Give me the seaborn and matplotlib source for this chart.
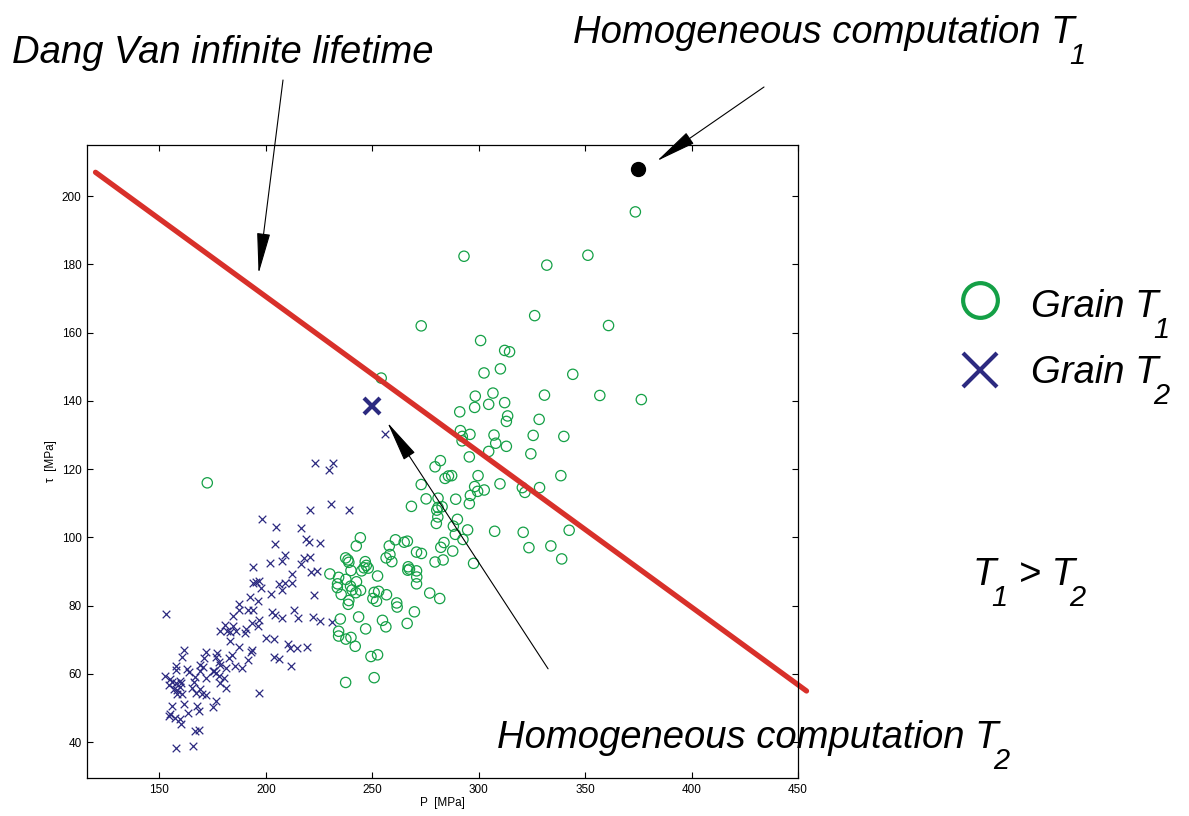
import numpy as np
import pandas as pd
import matplotlib
matplotlib.use("Agg")
import matplotlib.pyplot as plt
import seaborn as sns
from matplotlib.lines import Line2D

# Grain T2 (crosses): P [MPa], tau [MPa]
grain_t2_p = [255.9, 223.1, 231.7, 229.8, 230.5, 220.8, 239.2, 198.3, 204.7, 216.4, 218.7, 220.3,
              225.6, 204.2, 208.9, 207.7, 202.2, 220.8, 217.8, 216.6, 194.1, 221.2, 224.2, 212.2,
              206.2, 209.2, 212.2, 195.5, 197.0, 194.1, 197.7, 207.8, 202.3, 222.5, 192.6, 196.4,
              187.5, 187.2, 191.6, 194.2, 184.5, 202.8, 204.2, 213.1, 207.8, 215.2, 222.2, 225.5,
              231.1, 197.0, 193.7, 196.1, 180.9, 184.7, 178.6, 181.9, 183.3, 186.1, 190.6, 190.0,
              183.4, 187.5, 200.3, 203.9, 210.5, 211.4, 214.5, 219.2, 193.4, 193.0, 161.6, 160.5,
              171.7, 171.1, 177.0, 176.7, 184.1, 182.5, 191.6, 203.7, 206.4, 211.7, 158.0, 157.7,
              163.0, 163.7, 169.2, 170.6, 168.9, 175.0, 176.4, 178.6, 177.8, 181.4, 185.6, 188.7,
              152.7, 155.2, 156.1, 159.5, 160.2, 159.8, 158.0, 154.7, 166.9, 166.1, 171.7, 175.5,
              178.0, 180.2, 178.6, 181.2, 165.5, 168.9, 169.8, 172.0, 167.0, 158.4, 158.3, 160.5,
              157.0, 196.9, 176.7, 175.0, 156.1, 161.4, 167.5, 168.7, 163.3, 155.2, 154.7, 157.5,
              159.8, 160.0, 166.7, 168.7, 158.0, 165.8, 153.0]
grain_t2_tau = [130.3, 121.7, 121.9, 119.9, 109.9, 108.0, 108.1, 105.4, 103.1, 102.9, 99.6, 98.6,
                98.5, 98.0, 94.8, 93.0, 92.6, 94.4, 94.1, 92.2, 91.3, 89.8, 90.1, 89.4,
                86.4, 86.6, 86.7, 87.0, 87.2, 86.7, 85.2, 84.5, 83.5, 83.2, 82.4, 81.5,
                80.5, 78.8, 78.6, 78.8, 77.0, 78.1, 77.2, 78.8, 76.5, 76.5, 76.6, 75.5,
                75.3, 75.9, 75.0, 74.1, 74.3, 74.0, 72.7, 72.7, 72.3, 72.5, 73.2, 72.0,
                69.6, 68.0, 70.5, 70.2, 68.7, 67.7, 67.7, 68.0, 67.1, 66.4, 66.9, 65.0,
                66.4, 64.8, 66.1, 64.9, 65.5, 64.7, 64.1, 65.0, 64.5, 62.4, 62.2, 61.2,
                61.4, 60.7, 62.5, 61.9, 61.0, 60.9, 60.2, 62.7, 63.5, 61.7, 62.3, 61.7,
                59.4, 58.4, 57.7, 58.0, 57.2, 56.2, 57.2, 56.8, 59.2, 57.5, 58.7, 61.0,
                59.4, 58.7, 57.4, 55.9, 56.0, 55.7, 54.0, 53.7, 54.5, 55.3, 54.0, 54.1,
                55.7, 54.5, 52.1, 50.2, 50.7, 51.1, 50.6, 49.1, 48.6, 48.4, 47.6, 47.1,
                46.8, 45.4, 43.3, 43.5, 38.3, 38.9, 77.7]

# Grain T1 (circles): P [MPa], tau [MPa]
grain_t1_p = [373.6, 293.1, 351.3, 332.0, 326.3, 361.0, 273.0, 300.9, 312.2, 314.5, 310.2, 302.5,
              344.2, 254.2, 376.4, 298.4, 306.7, 304.7, 298.1, 312.2, 313.6, 313.0, 291.1, 330.9,
              356.9, 328.4, 291.4, 292.3, 292.2, 295.9, 307.2, 308.0, 313.0, 304.7, 295.6, 325.6,
              340.0, 324.5, 282.0, 279.5, 284.2, 285.8, 287.3, 273.0, 299.7, 298.1, 302.6, 310.0,
              299.5, 296.1, 295.6, 289.2, 280.9, 275.3, 268.4, 280.9, 282.8, 280.3, 280.8, 280.1,
              290.0, 288.1, 289.0, 292.6, 294.8, 283.7, 282.2, 287.8, 279.5, 283.3, 297.6, 320.5,
              321.7, 328.6, 338.6, 307.5, 320.9, 342.5, 323.6, 333.9, 339.0,
              244.4, 242.5, 260.9, 265.0, 266.5, 258.0, 270.8, 273.1, 258.3, 256.5, 259.2, 237.5,
              238.6, 239.0, 246.7, 247.2, 246.1, 248.1, 245.0, 240.0, 266.9, 267.5, 266.7, 270.8,
              270.9, 270.8, 252.5, 230.1, 234.2, 233.7, 233.6, 237.6, 239.8, 242.6, 240.5, 244.5,
              235.4, 242.3, 250.9, 253.0, 250.3, 252.0, 256.7, 239.0, 238.7, 261.5, 261.7, 277.0,
              281.7, 269.8, 266.4, 235.0, 243.6, 254.8, 256.4, 246.9, 234.2, 234.2, 240.0, 237.6,
              242.0, 249.4, 252.5, 250.9, 237.5, 172.5]
grain_t1_tau = [195.4, 182.4, 182.7, 179.8, 165.0, 162.1, 162.0, 157.7, 154.8, 154.4, 149.4, 148.2,
                147.8, 146.7, 140.4, 141.4, 142.3, 139.0, 138.1, 139.5, 135.6, 134.0, 136.8, 141.7,
                141.6, 134.6, 131.3, 129.6, 128.3, 130.2, 130.0, 127.6, 126.7, 125.2, 123.6, 129.9,
                129.6, 124.5, 122.5, 120.7, 117.3, 118.0, 118.1, 115.5, 118.1, 114.9, 113.9, 115.7,
                113.5, 112.3, 109.9, 111.2, 111.5, 111.3, 109.1, 108.8, 109.0, 108.0, 106.0, 104.1,
                105.3, 103.3, 100.9, 99.4, 102.2, 98.5, 97.1, 96.0, 92.8, 93.4, 92.4, 114.6,
                113.2, 114.6, 118.1, 101.8, 101.5, 102.1, 97.0, 97.5, 93.7,
                99.9, 97.5, 99.3, 98.6, 98.9, 97.5, 95.7, 95.3, 95.0, 94.0, 92.9, 94.0,
                93.4, 92.7, 92.9, 91.8, 91.1, 91.0, 90.2, 90.3, 91.4, 90.7, 90.4, 90.2,
                88.4, 86.4, 88.7, 89.3, 88.3, 86.4, 85.3, 87.7, 85.7, 87.0, 84.6, 84.5,
                83.3, 83.8, 83.9, 84.2, 82.1, 81.3, 83.2, 81.5, 80.4, 80.8, 79.6, 83.7,
                82.1, 78.2, 74.8, 76.1, 76.7, 75.7, 73.8, 73.2, 72.5, 71.1, 70.7, 70.2,
                68.1, 65.1, 65.6, 58.9, 57.5, 116.0]

# Dang Van criterion line and homogeneous computations
dang_van_p = [120.0, 454.0]
dang_van_tau = [207.0, 55.0]
homog_t1 = (375.0, 208.0)
homog_t2 = (250.0, 138.6)

GREEN = "#14a046"
NAVY = "#2c2a80"
RED = "#d8302a"

sns.set_style("ticks")
plt.rcParams["font.family"] = ["Liberation Sans", "DejaVu Sans"]
plt.rcParams["text.color"] = "black"
plt.rcParams["axes.labelcolor"] = "black"
plt.rcParams["xtick.color"] = "black"
plt.rcParams["ytick.color"] = "black"

W, H = 1189, 816
def fx(px):
    return px / W
def fy(py):
    return 1 - py / H

fig = plt.figure(figsize=(W / 100, H / 100), dpi=100)
ax = fig.add_axes([fx(87), fy(778), fx(798) - fx(87), fy(145) - fy(778)])

t1 = pd.DataFrame({"P": grain_t1_p, "tau": grain_t1_tau})
t2 = pd.DataFrame({"P": grain_t2_p, "tau": grain_t2_tau})

sns.scatterplot(data=t2, x="P", y="tau", marker="x", color=NAVY, s=30, linewidth=0.9, ax=ax, zorder=3)
sns.scatterplot(data=t1, x="P", y="tau", marker="o", s=55, facecolors="none",
                edgecolor=GREEN, linewidth=0.9, ax=ax, zorder=3)
sns.lineplot(x=dang_van_p, y=dang_van_tau, color=RED, linewidth=3.8, ax=ax, clip_on=False, zorder=4)

ax.plot(*homog_t1, marker="o", color="black", ms=10, zorder=5)
ax.plot(*homog_t2, marker="x", color=NAVY, ms=11, mew=3, zorder=5)

ax.set_xlim(116, 450)
ax.set_ylim(29.5, 215)
ax.set_xticks([150, 200, 250, 300, 350, 400, 450])
ax.set_yticks([40, 60, 80, 100, 120, 140, 160, 180, 200])
ax.tick_params(direction="in", top=True, right=True, length=4, width=0.8, labelsize=8.5, pad=4)
for sp in ax.spines.values():
    sp.set_linewidth(0.9)
    sp.set_color("black")
    sp.set_zorder(6)
ax.set_xlabel("P  [MPa]", fontsize=8.5, labelpad=1)
ax.set_ylabel("τ  [MPa]", fontsize=8.5, labelpad=3)

arrow = dict(arrowstyle="-|>,head_length=2.6,head_width=0.42", color="black",
             lw=0.8, mutation_scale=10, shrinkA=0, shrinkB=0)
ax.annotate("", xy=(196.6, 177.3), xycoords="data",
            xytext=(fx(283), fy(80)), textcoords="figure fraction", arrowprops=arrow)
ax.annotate("", xy=(383.7, 210.3), xycoords="data",
            xytext=(fx(764), fy(87)), textcoords="figure fraction", arrowprops=arrow)
ax.annotate("", xy=(257.1, 133.7), xycoords="data",
            xytext=(332.6, 61.5), textcoords="data", arrowprops=arrow)

renderer = fig.canvas.get_renderer()


def label(px, py, pieces, size=27.5):
    # pieces: list of (text, is_subscript); subscripts are drawn smaller and lower
    x = px
    for txt, is_sub in pieces:
        if is_sub:
            t = fig.text(fx(x - 5), fy(py + 21), txt, fontsize=size * 0.76, style="italic",
                         va="baseline", ha="left")
        else:
            t = fig.text(fx(x), fy(py), txt, fontsize=size, style="italic",
                         va="baseline", ha="left")
        x = t.get_window_extent(renderer).x1
    return x


label(12, 63, [("Dang Van infinite lifetime", False)])
label(573, 43, [("Homogeneous computation T", False), ("1", True)])
label(497, 748, [("Homogeneous computation T", False), ("2", True)])
label(1031, 317, [("Grain T", False), ("1", True)])
label(1031, 383, [("Grain T", False), ("2", True)])
label(973, 585, [("T", False), ("1", True), (" > T", False), ("2", True)])

fig.add_artist(Line2D([fx(980)], [fy(300)], marker="o", ls="", mfc="none", mec=GREEN,
                      ms=25, mew=3, transform=fig.transFigure))
fig.add_artist(Line2D([fx(980)], [fy(370)], marker="x", ls="", color=NAVY,
                      ms=24, mew=3, transform=fig.transFigure))

fig.savefig("out.png", dpi=100, facecolor="white")
